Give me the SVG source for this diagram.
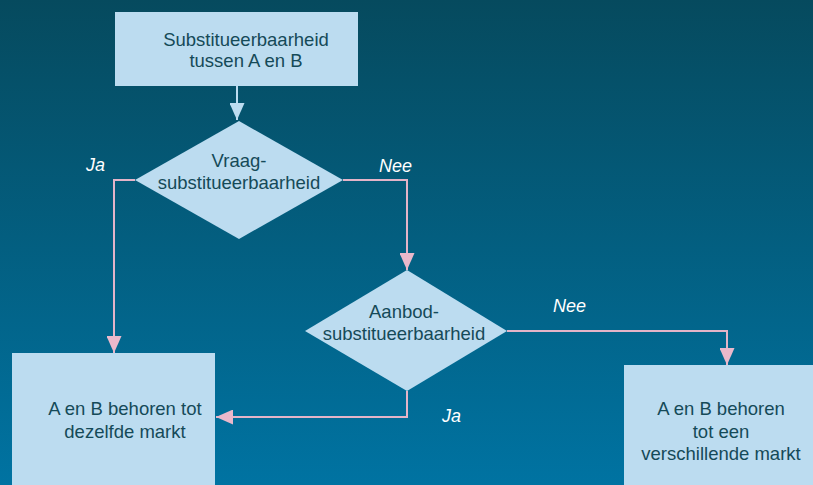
<svg xmlns="http://www.w3.org/2000/svg" width="813" height="485" viewBox="0 0 813 485">
<defs>
<linearGradient id="bg" x1="0" y1="0" x2="0" y2="1">
<stop offset="0" stop-color="#064a5e"/>
<stop offset="1" stop-color="#0073a2"/>
</linearGradient>
<marker id="ap" markerWidth="17" markerHeight="15" refX="17" refY="7.5" orient="auto" markerUnits="userSpaceOnUse">
<path d="M0,0 L17,7.5 L0,15 Z" fill="#eab8cb"/>
</marker>
<marker id="ab" markerWidth="17" markerHeight="15" refX="17" refY="7.5" orient="auto" markerUnits="userSpaceOnUse">
<path d="M0,0 L17,7.5 L0,15 Z" fill="#bcdcf0"/>
</marker>
</defs>
<style>
.shape{fill:#bcdcf0;stroke:none}
.t{font-family:"Liberation Sans",Arial,sans-serif;font-size:18.5px;fill:#154a58;text-anchor:middle}
.lbl{font-family:"Liberation Sans",Arial,sans-serif;font-size:18px;font-style:italic;fill:#ffffff}
.c{fill:none;stroke:#e4b4c8;stroke-width:2}
.cb{fill:none;stroke:#bcdcf0;stroke-width:2}
</style>
<rect width="813" height="485" fill="url(#bg)"/>
<g id="connectors">
<line class="cb" x1="237" y1="86" x2="237" y2="120" marker-end="url(#ab)"/>
<polyline class="c" points="135,180 114,180 114,353" marker-end="url(#ap)"/>
<polyline class="c" points="343,180 407,180 407,270" marker-end="url(#ap)"/>
<polyline class="c" points="407,391 407,417 216,417" marker-end="url(#ap)"/>
<polyline class="c" points="507,331 727,331 727,365" marker-end="url(#ap)"/>
<text class="lbl" x="86" y="171">Ja</text>
<text class="lbl" x="379" y="172">Nee</text>
<text class="lbl" x="442" y="422">Ja</text>
<text class="lbl" x="553" y="312">Nee</text>
</g>
<g id="start">
<rect class="shape" x="115" y="12" width="243" height="74"/>
<text class="t" x="246" y="46">Substitueerbaarheid</text>
<text class="t" x="246" y="67">tussen A en B</text>
</g>
<g id="vraag">
<polygon class="shape" points="239,121 343,180 239,239 135,180"/>
<text class="t" x="239" y="167">Vraag-</text>
<text class="t" x="239" y="189">substitueerbaarheid</text>
</g>
<g id="aanbod">
<polygon class="shape" points="407,270 507,331 407,391 305,331"/>
<text class="t" x="404" y="318">Aanbod-</text>
<text class="t" x="404" y="340">substitueerbaarheid</text>
</g>
<g id="zelfde">
<rect class="shape" x="12" y="353" width="203" height="132"/>
<text class="t" x="125" y="415">A en B behoren tot</text>
<text class="t" x="125" y="438">dezelfde markt</text>
</g>
<g id="verschillend">
<rect class="shape" x="624" y="365" width="189" height="120"/>
<text class="t" x="721" y="415">A en B behoren</text>
<text class="t" x="721" y="438">tot een</text>
<text class="t" x="721" y="460">verschillende markt</text>
</g>
</svg>
